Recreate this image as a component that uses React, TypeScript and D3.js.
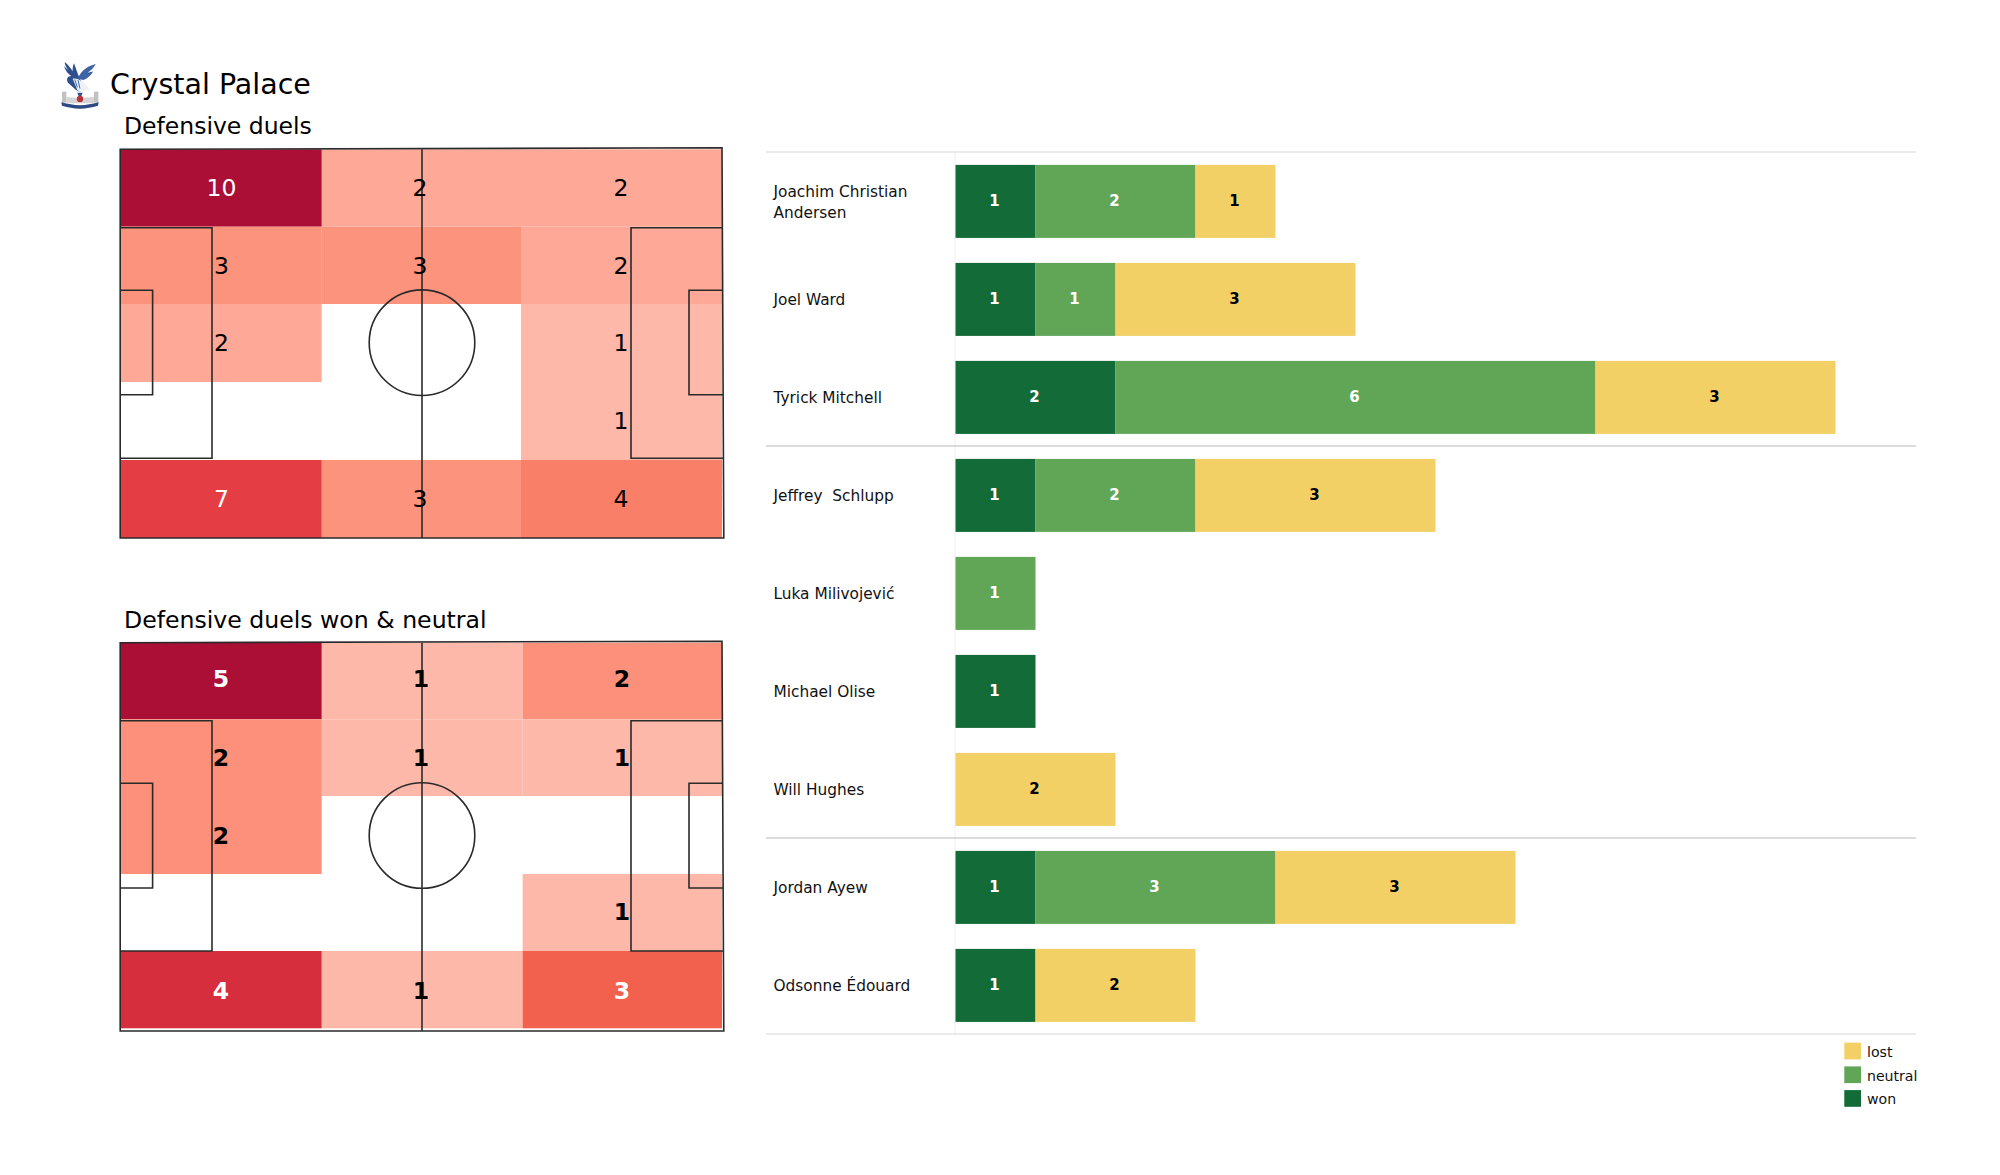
import React from "react";
import * as d3 from "d3";

const players = ["Joachim Christian\nAndersen", "Joel Ward", "Tyrick Mitchell", "Jeffrey  Schlupp", "Luka Milivojević", "Michael Olise", "Will Hughes", "Jordan Ayew", "Odsonne Édouard"];
const won = [1, 1, 2, 1, 0, 1, 0, 1, 1];
const neutral = [2, 1, 6, 2, 1, 0, 0, 3, 0];
const lost = [1, 3, 3, 3, 0, 0, 2, 3, 2];
const legendKeys = ["lost", "neutral", "won"];
const separators = [0, 3, 7, 9];

const duels = [[10, 2, 2], [3, 3, 2], [2, 0, 1], [0, 0, 1], [7, 3, 4]];
const duelsWon = [[5, 1, 2], [2, 1, 1], [2, 0, 0], [0, 0, 1], [4, 1, 3]];
const duelDomain = [0, 1, 2, 3, 4, 7, 10];
const duelRange = ["#ffffff", "#feb8aa", "#fea897", "#fc937d", "#fa7f68", "#e43e44", "#ab0f36"];
const wonDomain = [0, 1, 2, 3, 4, 5];
const wonRange = ["#ffffff", "#feb8aa", "#fc907a", "#f2614e", "#d72e3d", "#ab0f36"];

const FONT = "'DejaVu Sans', sans-serif";
const COLORS: Record<string, string> = { won: "#136b37", neutral: "#61a657", lost: "#f2d065" };

function Pitch({ data, domain, range, ys, bottom, xs, labelXs, labelYs, bold, whiteFrom, boxTop, boxBottom, sixTop, sixBottom, cy }: any) {
  const color = d3.scaleLinear<string>().domain(domain).range(range);
  const left = xs[0], right = xs[3], top = ys[0];
  const stroke = "#2a2a2a";
  return (
    <g>
      {data.map((row: number[], r: number) => row.map((v, c) => (
        <rect key={`${r}-${c}`} x={xs[c]} y={ys[r]} width={xs[c + 1] - xs[c]} height={ys[r + 1] - ys[r]} fill={color(v)} />
      )))}
      <g fill="none" stroke={stroke} strokeWidth={1.6}>
        <polygon points={`${left},${top} ${right},${top - 1.5} ${right + 1.8},${bottom} ${left},${bottom}`} />
        <line x1={422} x2={422} y1={top} y2={bottom} />
        <circle cx={422} cy={cy} r={52.8} />
        <path d={`M${left},${boxTop}H212V${boxBottom}H${left}`} />
        <path d={`M${right},${boxTop}H631V${boxBottom}H${right + 1}`} />
        <path d={`M${left},${sixTop}H152.6V${sixBottom}H${left}`} />
        <path d={`M${right},${sixTop}H689V${sixBottom}H${right + 1}`} />
      </g>
      {data.map((row: number[], r: number) => row.map((v, c) => v > 0 && (
        <text key={`t${r}-${c}`} x={labelXs[c]} y={labelYs[r]} textAnchor="middle" dominantBaseline="central"
          fontFamily={FONT} fontSize={23.5} fontWeight={bold ? 700 : 400} fill={v >= whiteFrom ? "#ffffff" : "#000000"}>{v}</text>
      )))}
    </g>
  );
}

function Crest() {
  return (
    <g transform="translate(40,40) scale(0.3333)" style={{ filter: "blur(0.5px)" }}>
      <rect x={66} y={155} width={13} height={33} fill="#c2c0c0" />
      <rect x={162} y={155} width={13} height={33} fill="#c2c0c0" />
      <path d="M79 170 C92 174 148 174 162 170 L162 190 L79 190 Z" fill="#d6d4d4" />
      <path d="M112 158 L128 158 L124 168 L116 168 Z" fill="#2d4f8e" />
      <path d="M84 128 C78 118 82 108 94 108 C84 102 76 92 72 78 C78 84 82 88 85 92 C80 84 74 74 74 66 C84 74 92 84 98 94 C98 86 98 78 102 70 C108 86 114 104 120 118 L128 128 L118 155 L108 150 Z" fill="#2d4f8e" />
      <path d="M112 116 C122 98 135 80 167 72 C160 85 152 92 143 98 C150 96 156 96 160 94 C152 108 142 116 130 120 Z" fill="#3d64a6" />
      <path d="M98 116 C112 112 134 124 150 150 C138 152 130 152 124 158 L112 150 Z" fill="#eef1f6" />
      <path d="M104 118 L112 142 M114 120 L120 146" stroke="#3d64a6" strokeWidth={3} fill="none" />
      <circle cx={120} cy={177} r={9.5} fill="#b8343c" />
      <path d="M64 187 C85 192 100 195 120 196 C140 195 155 192 176 187 L174 197 C155 202 140 205 120 206 C100 205 85 202 66 197 Z" fill="#2d4a84" />
    </g>
  );
}

export default function App() {
  const y = d3.scaleBand<number>().domain(d3.range(players.length)).range([152.4, 1034.4]).paddingInner(0.255).paddingOuter(0.1275);
  const x = d3.scaleLinear().domain([0, 12]).range([955.5, 1915.5]);
  const rows = players.map((p, i) => {
    const stack = [{ k: "won", v: won[i] }, { k: "neutral", v: neutral[i] }, { k: "lost", v: lost[i] }];
    let acc = 0;
    return { p, i, segs: stack.map(s => { const a = acc; acc += s.v; return { ...s, a }; }).filter(s => s.v > 0) };
  });
  const step = y.step();
  return (
    <svg width={2000} height={1175} style={{ position: "absolute", left: 0, top: 0, background: "#fff" }}>
      <Crest />
      <text x={110} y={94} fontFamily={FONT} fontSize={28.5} fill="#000">Crystal Palace</text>
      <text x={124} y={134} fontFamily={FONT} fontSize={23.5} fill="#000">Defensive duels</text>
      <text x={124} y={628} fontFamily={FONT} fontSize={23.6} fill="#000">Defensive duels won &amp; neutral</text>

      <Pitch data={duels} domain={duelDomain} range={duelRange} whiteFrom={7}
        xs={[120.2, 321.8, 521, 722]} ys={[149.3, 226.7, 304, 382, 460, 538]} bottom={538}
        labelXs={[221.5, 420, 621]} labelYs={[188, 266, 343, 421, 499]}
        boxTop={227.7} boxBottom={458.3} sixTop={290.3} sixBottom={394.7} cy={342.7} />
      <Pitch data={duelsWon} domain={wonDomain} range={wonRange} whiteFrom={3} bold
        xs={[120.2, 321.8, 522.6, 722]} ys={[642.7, 719.3, 796, 874, 951, 1028.3]} bottom={1031}
        labelXs={[221, 421, 622]} labelYs={[679, 757.5, 835.5, 912, 990.5]}
        boxTop={720.7} boxBottom={951} sixTop={783.3} sixBottom={888} cy={835.5} />

      <line x1={955} x2={955} y1={152} y2={1034} stroke="#eeeeee" strokeWidth={1} />
      {separators.map(s => {
        const ly = 152 + s * step;
        const c = s === 0 || s === 9 ? "#e4e4e4" : "#cfcfcf";
        return <line key={s} x1={766} x2={1916} y1={ly} y2={ly} stroke={c} strokeWidth={1.3} />;
      })}
      {rows.map(r => (
        <g key={r.i}>
          {r.p.split("\n").map((line, j, arr) => (
            <text key={j} x={773.5} y={y(r.i)! + y.bandwidth() / 2 + 1 + (j - (arr.length - 1) / 2) * 20.5} dominantBaseline="central"
              fontFamily={FONT} fontSize={15.35} fill="#111" style={{ whiteSpace: "pre" }}>{line}</text>
          ))}
          {r.segs.map(s => (
            <g key={s.k}>
              <rect x={x(s.a)} y={y(r.i)} width={x(s.v) - x(0)} height={y.bandwidth()} fill={COLORS[s.k]} />
              <text x={(x(s.a) + x(s.a + s.v)) / 2 - 1} y={y(r.i)! + y.bandwidth() / 2 - 0.8} textAnchor="middle" dominantBaseline="central"
                fontFamily={FONT} fontSize={15} fontWeight={700} fill={s.k === "lost" ? "#000" : "#fff"}>{s.v}</text>
            </g>
          ))}
        </g>
      ))}
      {legendKeys.map((k, i) => (
        <g key={k}>
          <rect x={1844.3} y={1042.7 + i * 23.7} width={16.7} height={16.7} fill={COLORS[k]} />
          <text x={1867} y={1052 + i * 23.5} dominantBaseline="central" fontFamily={FONT} fontSize={14.1} fill="#111">{k}</text>
        </g>
      ))}
    </svg>
  );
}
